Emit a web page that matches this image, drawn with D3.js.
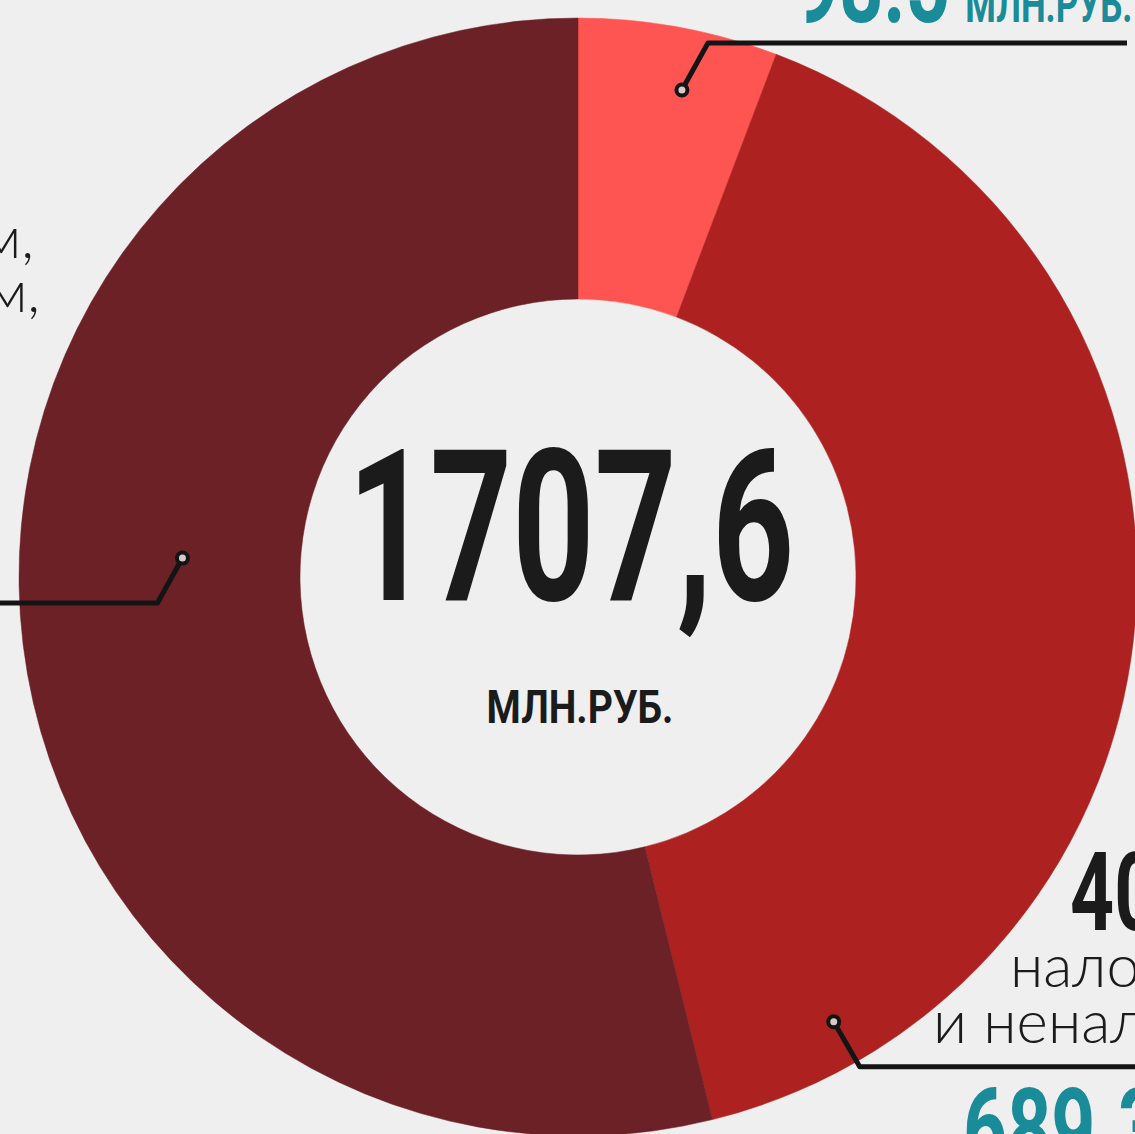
<!DOCTYPE html>
<html>
<head>
<meta charset="utf-8">
<script src="https://cdn.jsdelivr.net/npm/d3@7"></script>
<style>
  html, body { margin: 0; padding: 0; background: #efefef; }
  svg { display: block; }
</style>
</head>
<body>
<svg id="budget"></svg>
<script>
const sliceNames = ["прочие доходы", "налоговые и неналоговые доходы", "безвозмездные поступления"];
const sliceValues = [98.5, 689.3, 919.8];
const sliceValueLabels = ["98.5", "689.3", "919.8"];
const sliceColors = ["#fe5552", "#ad2220", "#6c2126"];
const totalLabel = "1707,6";
const unitLabel = "МЛН.РУБ.";
const percentLabel = "40%";
const rightTextLines = ["налоговые", "и неналоговые"];
const leftTextLines = ["дотации бюджетам,", "субсидии поселениям,"];

document.addEventListener("DOMContentLoaded", () => {
  drawDonut("budget");
});

function drawDonut(id) {
  const width = 1135,
    height = 1134;
  const cx = 578,
    cy = 577;
  const outerR = 559,
    innerR = 278;
  const condensed = "Roboto, 'DejaVu Sans', sans-serif";
  const thin = "Lato, 'Open Sans', sans-serif";
  const teal = "#1a8b99";

  const svg = d3
    .select(`svg#${id}`)
    .attr("width", width)
    .attr("height", height);

  svg
    .append("rect")
    .attr("width", width)
    .attr("height", height)
    .attr("fill", "#efefef");

  const g = svg
    .append("g")
    .attr("transform", "translate(" + cx + "," + cy + ")");

  const pie = d3.pie().sort(null).value((d) => d);
  const arcs = pie(sliceValues);
  const arc = d3.arc().innerRadius(innerR).outerRadius(outerR);

  g.selectAll(".slice")
    .data(arcs)
    .enter()
    .append("path")
    .attr("class", "slice")
    .attr("d", arc)
    .style("fill", (d, i) => sliceColors[i])
    .style("stroke", (d, i) => sliceColors[i])
    .style("stroke-width", 0.5);

  // leader lines: where the dot sits inside each slice, then a bend and a long horizontal run
  const leaders = [
    { t: 0.58, r: 498, dx: 26, dy: -47, endX: 1127 },
    { t: 0.89, r: 513, dx: 26, dy: 45, endX: 1140 },
    { t: 0.55, r: 396, dx: -25, dy: 45, endX: -5 },
  ];

  const leaderG = svg.append("g").attr("class", "leaders");
  arcs.forEach((a, i) => {
    const L = leaders[i];
    const ang = a.startAngle + (a.endAngle - a.startAngle) * L.t;
    const px = cx + L.r * Math.sin(ang);
    const py = cy - L.r * Math.cos(ang);
    const bx = px + L.dx,
      by = py + L.dy;
    leaderG
      .append("path")
      .attr("d", d3.line()([[px, py], [bx, by], [L.endX, by]]))
      .style("fill", "none")
      .style("stroke", "#141414")
      .style("stroke-width", 5)
      .style("stroke-linejoin", "round");
    leaderG
      .append("circle")
      .attr("cx", px)
      .attr("cy", py)
      .attr("r", 5.5)
      .style("fill", "#d9c9c9")
      .style("stroke", "#141414")
      .style("stroke-width", 4);
  });

  // center total
  svg
    .append("text")
    .attr("transform", "translate(571,600) scale(0.68,1)")
    .attr("text-anchor", "middle")
    .style("font-family", condensed)
    .style("font-weight", 700)
    .style("font-size", "211px")
    .style("fill", "#1b1b1b")
    .text(totalLabel);

  svg
    .append("text")
    .attr("transform", "translate(580,723) scale(0.85,1)")
    .attr("text-anchor", "middle")
    .style("font-family", condensed)
    .style("font-weight", 700)
    .style("font-size", "46px")
    .style("fill", "#1b1b1b")
    .text(unitLabel);

  // top-right value (cut by the top edge)
  const topLabel = svg
    .append("text")
    .attr("transform", "translate(795,22) scale(0.70,1)")
    .style("font-family", condensed)
    .style("font-weight", 700)
    .style("fill", teal);
  topLabel.append("tspan").style("font-size", "110px").text(sliceValueLabels[0]);
  topLabel
    .append("tspan")
    .attr("dx", 22)
    .style("font-size", "50px")
    .text(unitLabel);

  // right block
  svg
    .append("text")
    .attr("transform", "translate(1070,930) scale(0.70,1)")
    .style("font-family", condensed)
    .style("font-weight", 700)
    .style("font-size", "110px")
    .style("fill", "#1b1b1b")
    .text(percentLabel);

  const rightX = [1010, 933],
    rightY = [987, 1043];
  rightTextLines.forEach((t, i) => {
    svg
      .append("text")
      .attr("x", rightX[i])
      .attr("y", rightY[i])
      .style("font-family", thin)
      .style("font-weight", 300)
      .style("font-size", "60px")
      .style("fill", "#1b1b1b")
      .text(t);
  });

  const bottomLabel = svg
    .append("text")
    .attr("transform", "translate(963,1166) scale(0.70,1)")
    .style("font-family", condensed)
    .style("font-weight", 700)
    .style("fill", teal);
  bottomLabel.append("tspan").style("font-size", "110px").text(sliceValueLabels[1]);
  bottomLabel
    .append("tspan")
    .attr("dx", 22)
    .style("font-size", "50px")
    .text(unitLabel);

  // left block (cut by the left edge)
  const leftX = [34, 40],
    leftY = [258, 312];
  leftTextLines.forEach((t, i) => {
    svg
      .append("text")
      .attr("x", leftX[i])
      .attr("y", leftY[i])
      .attr("text-anchor", "end")
      .style("font-family", thin)
      .style("font-weight", 300)
      .style("font-size", "58px")
      .style("fill", "#1b1b1b")
      .text(t);
  });
}
</script>
</body>
</html>
